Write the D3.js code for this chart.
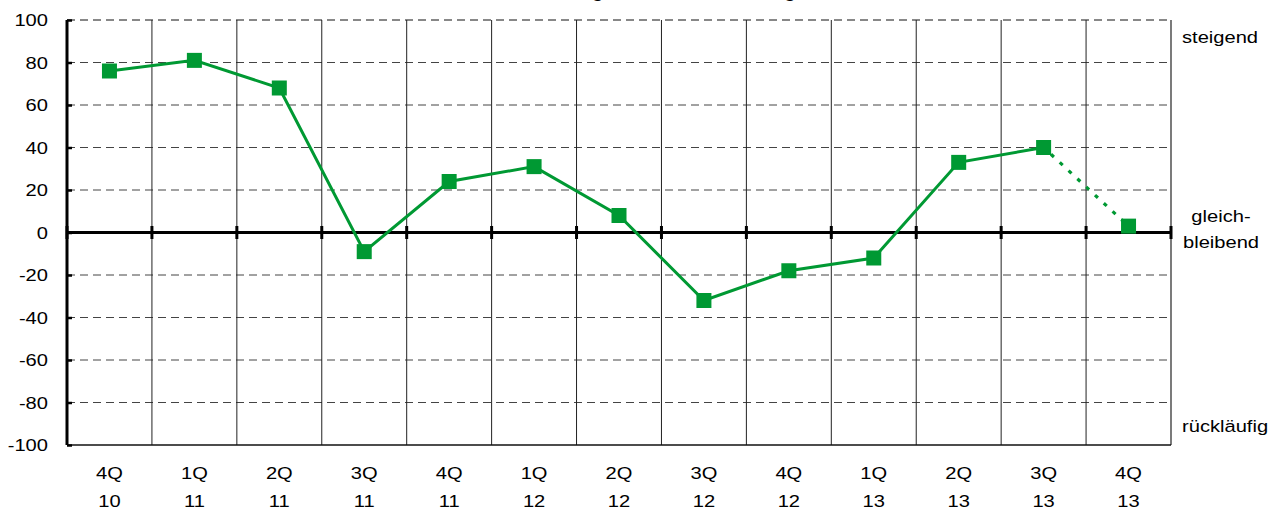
<!DOCTYPE html>
<html>
<head>
<meta charset="utf-8">
<script src="https://cdn.jsdelivr.net/npm/d3@7"></script>
<style>
  body { margin: 0; background: #fff; }
  svg text { font-family: Arial, "Liberation Sans", sans-serif; fill: #000; }
</style>
</head>
<body>
<svg id="chart" width="1282" height="510"></svg>
<script>
// quarter labels (two lines) and the balance values
const quarters = ["4Q", "1Q", "2Q", "3Q", "4Q", "1Q", "2Q", "3Q", "4Q", "1Q", "2Q", "3Q", "4Q"];
const years    = ["10", "11", "11", "11", "11", "12", "12", "12", "12", "13", "13", "13", "13"];
const values   = [76, 81, 68, -9, 24, 31, 8, -32, -18, -12, 33, 40, 3];
const yTicks   = [-100, -80, -60, -40, -20, 0, 20, 40, 60, 80, 100];
const forecastFrom = 11; // last segment (3Q 13 -> 4Q 13) is dotted
const title = "Erwartung Umsatzentwicklung";

const green = "#009933";
const pLeft = 67, pRight = 1171, pTop = 20, pBottom = 445;
const fs = 16.5, stretch = 1.22; // the reference text is a bit wide

const svg = d3.select("#chart");
const keys = quarters.map((q, i) => i);

const x = d3.scaleBand().domain(keys).range([pLeft, pRight]).padding(0);
const y = d3.scaleLinear().domain([-100, 100]).range([pBottom, pTop]);

// place a text at (tx,ty) with the horizontal stretch
function label(g, tx, ty, str, anchor) {
  return g.append("text")
    .attr("transform", `translate(${tx},${ty}) scale(${stretch},1)`)
    .attr("text-anchor", anchor || "start")
    .attr("font-size", fs)
    .text(str);
}

// title, mostly cut off by the top edge
svg.append("text")
  .attr("x", 505).attr("y", -3)
  .attr("font-size", 20).attr("font-weight", "bold")
  .text(title);

// horizontal dashed grid
svg.append("g").selectAll("line")
  .data(yTicks.filter(d => d !== 0 && d !== -100))
  .join("line")
  .attr("x1", pLeft).attr("x2", pRight)
  .attr("y1", d => y(d)).attr("y2", d => y(d))
  .attr("stroke", d => d === 100 ? "#111" : "#444")
  .attr("stroke-width", 1)
  .attr("stroke-dasharray", "8,5");

// vertical grid at category boundaries
svg.append("g").selectAll("line")
  .data(keys.slice(1))
  .join("line")
  .attr("x1", d => x(d)).attr("x2", d => x(d))
  .attr("y1", pTop).attr("y2", pBottom)
  .attr("stroke", "#222").attr("stroke-width", 1);

// right border and bottom
svg.append("line")
  .attr("x1", pRight).attr("x2", pRight).attr("y1", pTop).attr("y2", pBottom)
  .attr("stroke", "#222").attr("stroke-width", 1.2);
svg.append("line")
  .attr("x1", pLeft).attr("x2", pRight).attr("y1", y(-100)).attr("y2", y(-100))
  .attr("stroke", "#111").attr("stroke-width", 1.5);

// left axis with inside ticks
const yAxis = d3.axisRight(y).tickValues(yTicks).tickSize(5).tickFormat("");
svg.append("g")
  .attr("transform", `translate(${pLeft},0)`)
  .call(yAxis)
  .call(g => g.select(".domain").attr("stroke-width", 3).attr("d", `M0,${pTop}V${pBottom}`))
  .call(g => g.selectAll(".tick line").attr("stroke-width", 2.5));

// y tick labels
const yl = svg.append("g");
yTicks.forEach(d => label(yl, 48, y(d) + 6, d, "end"));

// zero line with tick marks
svg.append("line")
  .attr("x1", pLeft).attr("x2", pRight).attr("y1", y(0)).attr("y2", y(0))
  .attr("stroke", "#000").attr("stroke-width", 3);
svg.append("g").selectAll("line")
  .data(keys.concat([keys.length]))
  .join("line")
  .attr("x1", d => d < keys.length ? x(d) : pRight)
  .attr("x2", d => d < keys.length ? x(d) : pRight)
  .attr("y1", y(0) - 6.5).attr("y2", y(0) + 6.5)
  .attr("stroke", "#000").attr("stroke-width", 3);

// x labels
const xl = svg.append("g");
keys.forEach(i => {
  const cx = x(i) + x.bandwidth() / 2;
  label(xl, cx, 479, quarters[i], "middle");
  label(xl, cx, 507, years[i], "middle");
});

// right side labels
const rl = svg.append("g");
label(rl, 1182, 43, "steigend");
label(rl, 1221, 222, "gleich-", "middle");
label(rl, 1221, 248, "bleibend", "middle");
label(rl, 1182, 432, "rückläufig");

// series line
const pts = values.map((v, i) => [x(i) + x.bandwidth() / 2, y(v)]);
const line = d3.line();
svg.append("path")
  .attr("d", line(pts.slice(0, forecastFrom + 1)))
  .attr("fill", "none").attr("stroke", green).attr("stroke-width", 3);
svg.append("path")
  .attr("d", line(pts.slice(forecastFrom)))
  .attr("fill", "none").attr("stroke", green).attr("stroke-width", 3.2)
  .attr("stroke-dasharray", "4,8").attr("stroke-dashoffset", -10);

// markers
svg.append("g").selectAll("rect")
  .data(pts)
  .join("rect")
  .attr("x", d => d[0] - 7.5).attr("y", d => d[1] - 7.5)
  .attr("width", 15).attr("height", 15)
  .attr("fill", green);
</script>
</body>
</html>
